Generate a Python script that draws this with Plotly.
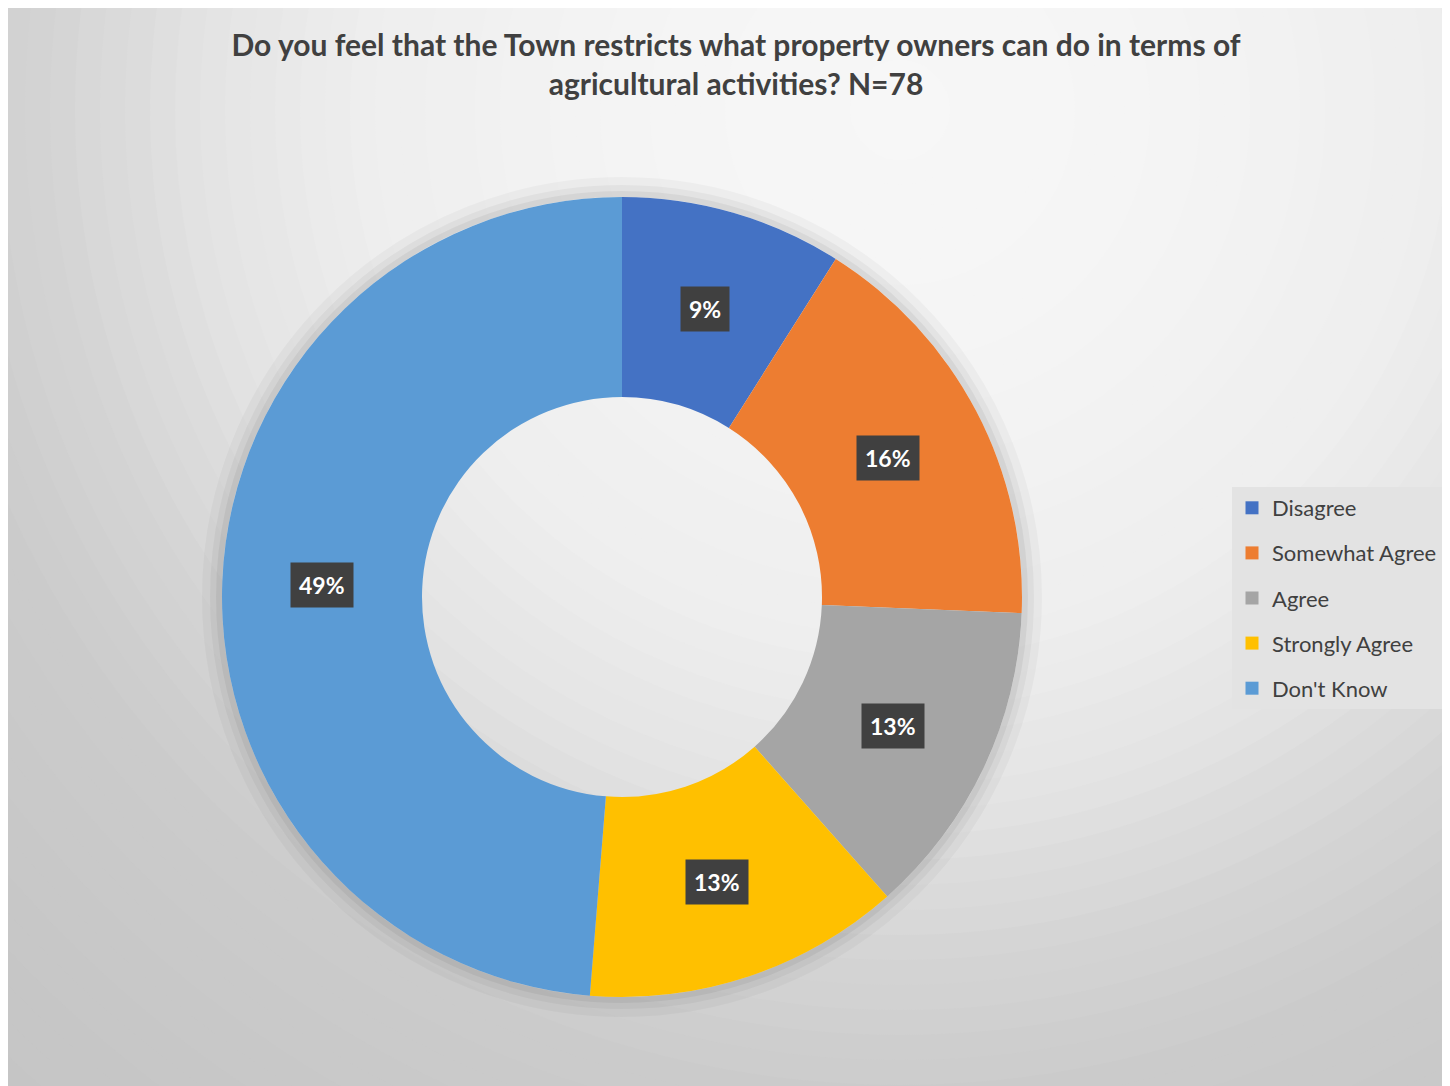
import math

import plotly.graph_objects as go

# survey answers, N=78
answers = ["Disagree", "Somewhat Agree", "Agree", "Strongly Agree", "Don't Know"]
counts = [7, 13, 10, 10, 38]
pct_labels = ["9%", "16%", "13%", "13%", "49%"]
colors = ["#4472C4", "#ED7D31", "#A5A5A5", "#FFC000", "#5B9BD5"]

title = ("Do you feel that the Town restricts what property owners can do in terms of"
         "<br>agricultural activities? N=78")

# the page puts the figure 8px in from the top-left corner
OFF = 8
W, H = 1450 - OFF, 1086 - OFF


def px(x):
    return (x - OFF) / W


def py(y):
    return 1 - (y - OFF) / H


######################
# Donut geometry
######################

dom_x = [px(222), px(1022)]
dom_y = [py(997), py(197)]
cx = sum(dom_x) / 2
cy = sum(dom_y) / 2
radius = 400  # px
hole = 0.5

fig = go.Figure()

fig.add_trace(go.Pie(
    labels=answers,
    values=counts,
    sort=False,
    direction="clockwise",
    rotation=0,
    hole=hole,
    marker=dict(colors=colors, line=dict(width=0)),
    textinfo="none",
    hoverinfo="label+percent",
    showlegend=False,
    domain=dict(x=dom_x, y=dom_y),
))

# legend entries as separate traces so the spacing can be set
for name, col in zip(answers, colors):
    fig.add_trace(go.Scatter(
        x=[None], y=[None], mode="markers", name=name, legendgroup=name,
        marker=dict(symbol="square", size=13, color=col),
    ))

######################
# Data labels in the middle of the ring
######################

total = sum(counts)
mid_r = radius * (1 + hole) / 2
cum = 0
for cnt, txt in zip(counts, pct_labels):
    theta = 2 * math.pi * (cum + cnt / 2) / total
    cum += cnt
    fig.add_annotation(
        x=cx + mid_r * math.sin(theta) / W,
        y=cy + mid_r * math.cos(theta) / H,
        xref="paper", yref="paper", xanchor="center", yanchor="middle",
        showarrow=False,
        text=f"<b>{txt}</b>",
        font=dict(family="Lato", size=23, color="white"),
        bgcolor="#404040",
        borderpad=8,
    )

######################
# Background gradient and ring halo
######################

# (radius px, grey level) around a light spot at the upper right
bg_keys = [(0, 247), (250, 245), (550, 238), (700, 228), (850, 213), (1000, 203), (1500, 194)]
shapes = []
steps = 60
for i in range(steps, 0, -1):
    r = 1500 * i / steps
    for (r0, g0), (r1, g1) in zip(bg_keys, bg_keys[1:]):
        if r0 <= r <= r1:
            g = round(g0 + (g1 - g0) * (r - r0) / (r1 - r0))
            break
    shapes.append(dict(type="circle", xref="paper", yref="paper",
                       xsizemode="pixel", ysizemode="pixel",
                       xanchor=px(900), yanchor=py(110),
                       x0=-r, x1=r, y0=-r, y1=r,
                       fillcolor=f"rgb({g},{g},{g})", line=dict(width=0), layer="below"))

for r, w, a in [(410, 20, 0.03), (406, 12, 0.04), (403, 6, 0.05)]:
    shapes.append(dict(type="circle", xref="paper", yref="paper",
                       xsizemode="pixel", ysizemode="pixel",
                       xanchor=cx, yanchor=cy,
                       x0=-r, x1=r, y0=-r, y1=r,
                       line=dict(width=w, color=f"rgba(0,0,0,{a})"), layer="below"))

######################
# Layout
######################

fig.update_layout(
    width=W, height=H,
    margin=dict(l=0, r=0, t=0, b=0),
    paper_bgcolor="rgb(194,194,194)",
    plot_bgcolor="rgba(0,0,0,0)",
    shapes=shapes,
    title=dict(text=f"<b>{title}</b>", x=px(736), xanchor="center",
               y=py(56), yanchor="top",
               font=dict(family="Lato", size=30, color="#404040")),
    xaxis=dict(visible=False),
    yaxis=dict(visible=False),
    legend=dict(
        x=px(1232), y=py(487), xanchor="left", yanchor="top",
        bgcolor="#e3e3e3", traceorder="grouped", tracegroupgap=13.5,
        font=dict(family="Lato", size=22, color="#404040"),
        itemclick=False,
    ),
    font=dict(family="Lato"),
)

fig.write_html("out.html")
